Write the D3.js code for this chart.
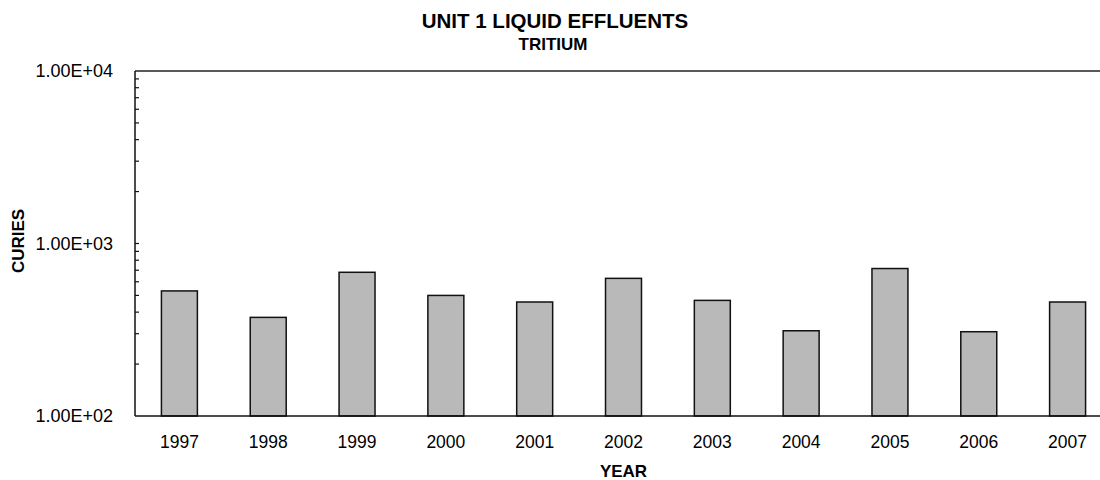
<!DOCTYPE html>
<html>
<head>
<meta charset="utf-8">
<script src="https://cdn.jsdelivr.net/npm/d3@7"></script>
<style>
  body { margin: 0; background: #fff; }
  svg { display: block; font-family: "Liberation Sans", Arial, sans-serif; }
</style>
</head>
<body>
<svg id="chart" width="1100" height="480"></svg>
<script>
// data
const years = ["1997", "1998", "1999", "2000", "2001", "2002", "2003", "2004", "2005", "2006", "2007"];
const curies = [531, 373, 681, 500, 458, 628, 468, 312, 716, 308, 458];
const yTicks = [100, 1000, 10000];

const margin = { top: 71, left: 135 };
const width = 977, height = 345;

const svg = d3.select("#chart");
const g = svg.append("g").attr("transform", `translate(${margin.left}, ${margin.top})`);

const x = d3.scaleBand().domain(years).range([0, width]).paddingInner(0.595).paddingOuter(0.2975);
const y = d3.scaleLog().domain([100, 10000]).range([height, 0]);

// bars
g.selectAll("rect.bar")
  .data(years.map((d, i) => ({ year: d, v: curies[i] })))
  .join("rect")
  .attr("class", "bar")
  .attr("x", d => x(d.year))
  .attr("y", d => y(d.v))
  .attr("width", x.bandwidth())
  .attr("height", d => height - y(d.v))
  .attr("fill", "#b9b9b9")
  .attr("stroke", "#111")
  .attr("stroke-width", 1.5);

// top frame line
g.append("line")
  .attr("x1", 0).attr("x2", width)
  .attr("y1", 0).attr("y2", 0)
  .attr("stroke", "#222").attr("stroke-width", 1.5);

// left axis: minor ticks inside, labels outside
const minor = y.ticks().filter(t => t > 100 && t < 10000);
const yAxis = g.append("g");
yAxis.append("line")
  .attr("x1", 0).attr("x2", 0).attr("y1", 0).attr("y2", height)
  .attr("stroke", "#111").attr("stroke-width", 1.5);
yAxis.selectAll("line.tick")
  .data(minor)
  .join("line")
  .attr("class", "tick")
  .attr("x1", 0).attr("x2", 4)
  .attr("y1", d => y(d)).attr("y2", d => y(d))
  .attr("stroke", "#111").attr("stroke-width", 1.2);
yAxis.selectAll("text")
  .data(yTicks)
  .join("text")
  .attr("x", -22)
  .attr("y", d => y(d))
  .attr("dy", "0.36em")
  .attr("text-anchor", "end")
  .style("font-size", "18px")
  .text(d => d3.format(".2e")(d).replace("e", "E").replace(/E([+-])(\d)$/, "E$10$2"));

// bottom axis
const xAxis = g.append("g").attr("transform", `translate(0, ${height})`);
xAxis.append("line")
  .attr("x1", 0).attr("x2", width)
  .attr("stroke", "#111").attr("stroke-width", 1.5);
xAxis.selectAll("text")
  .data(years)
  .join("text")
  .attr("x", d => x(d) + x.bandwidth() / 2)
  .attr("y", 32)
  .attr("text-anchor", "middle")
  .style("font-size", "17.5px")
  .text(d => d);

// titles
svg.append("text")
  .attr("x", 555).attr("y", 28)
  .attr("text-anchor", "middle")
  .style("font-size", "20.5px").style("font-weight", "bold")
  .text("UNIT 1 LIQUID EFFLUENTS");
svg.append("text")
  .attr("x", 553).attr("y", 50)
  .attr("text-anchor", "middle")
  .style("font-size", "17px").style("font-weight", "bold")
  .text("TRITIUM");

svg.append("text")
  .attr("x", margin.left + width / 2).attr("y", 477)
  .attr("text-anchor", "middle")
  .style("font-size", "17px").style("font-weight", "bold")
  .text("YEAR");

svg.append("text")
  .attr("transform", `translate(24, 241) rotate(-90)`)
  .attr("text-anchor", "middle")
  .style("font-size", "17px").style("font-weight", "bold")
  .text("CURIES");
</script>
</body>
</html>
